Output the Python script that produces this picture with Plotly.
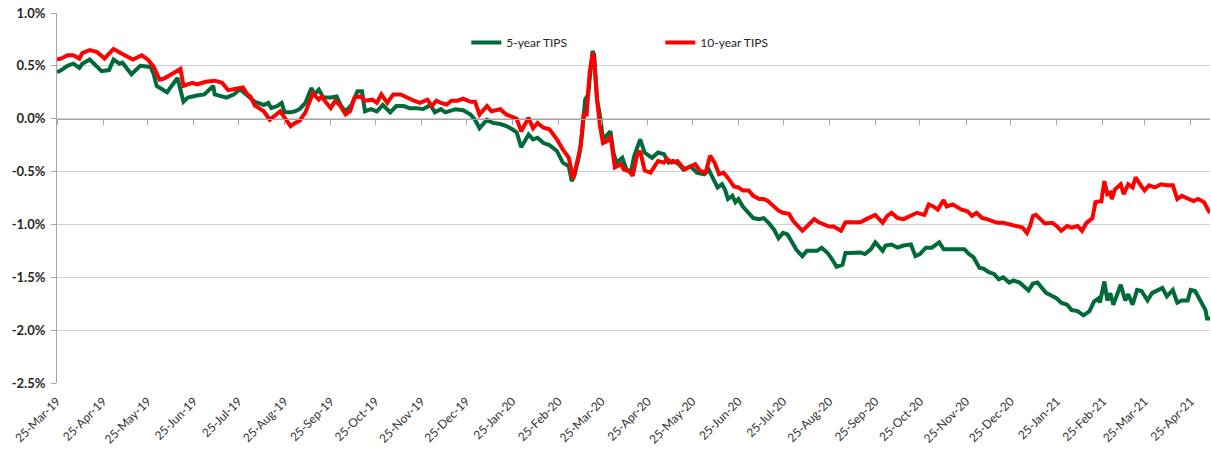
import plotly.graph_objects as go

# 5-year TIPS real yield (%)
dates_5y = [
    "2019-03-25", "2019-03-28", "2019-04-01", "2019-04-05", "2019-04-09", "2019-04-11", "2019-04-16", "2019-04-19",
    "2019-04-24", "2019-04-29", "2019-05-02", "2019-05-06", "2019-05-08", "2019-05-14", "2019-05-20", "2019-05-27",
    "2019-05-29", "2019-05-31", "2019-06-05", "2019-06-07", "2019-06-10", "2019-06-14", "2019-06-18", "2019-06-21",
    "2019-06-27", "2019-07-02", "2019-07-08", "2019-07-09", "2019-07-17", "2019-07-22", "2019-07-26", "2019-07-31",
    "2019-08-05", "2019-08-11", "2019-08-14", "2019-08-16", "2019-08-20", "2019-08-23", "2019-08-25", "2019-08-29",
    "2019-09-01", "2019-09-04", "2019-09-08", "2019-09-12", "2019-09-14", "2019-09-17", "2019-09-20", "2019-09-25",
    "2019-09-29", "2019-10-02", "2019-10-05", "2019-10-09", "2019-10-13", "2019-10-16", "2019-10-18", "2019-10-22",
    "2019-10-26", "2019-10-30", "2019-11-04", "2019-11-08", "2019-11-13", "2019-11-17", "2019-11-22", "2019-11-26",
    "2019-12-01", "2019-12-04", "2019-12-08", "2019-12-11", "2019-12-14", "2019-12-18", "2019-12-23", "2019-12-28",
    "2019-12-31", "2020-01-03", "2020-01-08", "2020-01-12", "2020-01-17", "2020-01-21", "2020-01-25", "2020-01-28",
    "2020-01-31", "2020-02-05", "2020-02-08", "2020-02-11", "2020-02-15", "2020-02-19", "2020-02-24", "2020-02-28",
    "2020-03-03", "2020-03-05", "2020-03-07", "2020-03-10", "2020-03-12", "2020-03-14", "2020-03-16", "2020-03-19",
    "2020-03-20", "2020-03-22", "2020-03-24", "2020-03-26", "2020-03-29", "2020-03-31", "2020-04-02", "2020-04-04",
    "2020-04-08", "2020-04-11", "2020-04-14", "2020-04-16", "2020-04-20", "2020-04-23", "2020-04-28", "2020-05-02",
    "2020-05-06", "2020-05-09", "2020-05-12", "2020-05-16", "2020-05-19", "2020-05-24", "2020-05-28", "2020-06-02",
    "2020-06-05", "2020-06-08", "2020-06-11", "2020-06-14", "2020-06-16", "2020-06-18", "2020-06-21", "2020-06-23",
    "2020-06-25", "2020-06-28", "2020-07-02", "2020-07-05", "2020-07-09", "2020-07-12", "2020-07-15", "2020-07-19",
    "2020-07-22", "2020-07-25", "2020-07-28", "2020-07-31", "2020-08-03", "2020-08-07", "2020-08-10", "2020-08-13",
    "2020-08-17", "2020-08-20", "2020-08-24", "2020-08-27", "2020-08-30", "2020-09-03", "2020-09-05", "2020-09-08",
    "2020-09-12", "2020-09-15", "2020-09-18", "2020-09-22", "2020-09-25", "2020-09-30", "2020-10-02", "2020-10-06",
    "2020-10-10", "2020-10-14", "2020-10-19", "2020-10-22", "2020-10-25", "2020-10-29", "2020-11-02", "2020-11-07",
    "2020-11-10", "2020-11-14", "2020-11-20", "2020-11-24", "2020-11-27", "2020-11-30", "2020-12-04", "2020-12-07",
    "2020-12-10", "2020-12-14", "2020-12-17", "2020-12-20", "2020-12-24", "2020-12-27", "2020-12-31", "2021-01-03",
    "2021-01-06", "2021-01-09", "2021-01-12", "2021-01-15", "2021-01-18", "2021-01-21", "2021-01-25", "2021-01-28",
    "2021-02-01", "2021-02-04", "2021-02-08", "2021-02-12", "2021-02-16", "2021-02-19", "2021-02-22", "2021-02-23",
    "2021-02-26", "2021-02-28", "2021-03-02", "2021-03-04", "2021-03-09", "2021-03-12", "2021-03-14", "2021-03-17",
    "2021-03-20", "2021-03-23", "2021-03-27", "2021-03-30", "2021-04-03", "2021-04-06", "2021-04-09", "2021-04-13",
    "2021-04-16", "2021-04-19", "2021-04-23", "2021-04-25", "2021-04-28", "2021-05-02", "2021-05-05", "2021-05-06",
    "2021-05-08",
]
tips_5y = [
    0.44, 0.46, 0.50, 0.52, 0.48, 0.52, 0.56, 0.52,
    0.45, 0.46, 0.56, 0.52, 0.53, 0.42, 0.50, 0.49,
    0.42, 0.31, 0.27, 0.25, 0.31, 0.385, 0.16, 0.20,
    0.22, 0.23, 0.31, 0.23, 0.20, 0.23, 0.28, 0.22,
    0.16, 0.13, 0.15, 0.10, 0.12, 0.15, 0.06, 0.06,
    0.07, 0.09, 0.15, 0.29, 0.23, 0.275, 0.20, 0.20,
    0.21, 0.12, 0.07, 0.13, 0.26, 0.26, 0.07, 0.09,
    0.07, 0.13, 0.06, 0.12, 0.12, 0.10, 0.10, 0.09,
    0.13, 0.06, 0.09, 0.06, 0.07, 0.09, 0.08, 0.04,
    -0.01, -0.09, -0.01, -0.04, -0.05, -0.07, -0.10, -0.13,
    -0.27, -0.15, -0.195, -0.18, -0.23, -0.25, -0.305, -0.415,
    -0.45, -0.59, -0.525, -0.35, -0.13, 0.18, 0.23, 0.64,
    0.61, 0.18, 0.025, -0.195, -0.15, -0.12, -0.32, -0.415,
    -0.37, -0.49, -0.49, -0.35, -0.195, -0.32, -0.37, -0.32,
    -0.335, -0.415, -0.40, -0.43, -0.48, -0.45, -0.51, -0.525,
    -0.48, -0.56, -0.65, -0.62, -0.67, -0.76, -0.73, -0.79,
    -0.76, -0.83, -0.89, -0.94, -0.95, -0.94, -0.98, -1.05,
    -1.13, -1.08, -1.095, -1.17, -1.24, -1.30, -1.25, -1.25,
    -1.25, -1.22, -1.27, -1.33, -1.40, -1.38, -1.27, -1.27,
    -1.265, -1.265, -1.28, -1.235, -1.17, -1.25, -1.20, -1.19,
    -1.22, -1.20, -1.19, -1.30, -1.28, -1.22, -1.22, -1.17,
    -1.235, -1.235, -1.235, -1.235, -1.28, -1.31, -1.41, -1.42,
    -1.45, -1.47, -1.52, -1.50, -1.55, -1.53, -1.55, -1.59,
    -1.625, -1.56, -1.55, -1.60, -1.65, -1.67, -1.70, -1.74,
    -1.76, -1.81, -1.82, -1.86, -1.82, -1.73, -1.70, -1.74,
    -1.54, -1.72, -1.65, -1.76, -1.57, -1.72, -1.66, -1.76,
    -1.62, -1.63, -1.72, -1.65, -1.62, -1.60, -1.68, -1.62,
    -1.74, -1.72, -1.72, -1.62, -1.63, -1.74, -1.81, -1.89,
    -1.89,
]

# 10-year TIPS real yield (%)
dates_10y = [
    "2019-03-25", "2019-03-28", "2019-04-01", "2019-04-05", "2019-04-09", "2019-04-11", "2019-04-16", "2019-04-21",
    "2019-04-26", "2019-05-02", "2019-05-07", "2019-05-15", "2019-05-21", "2019-05-25", "2019-05-29", "2019-06-02",
    "2019-06-05", "2019-06-09", "2019-06-12", "2019-06-16", "2019-06-18", "2019-06-24", "2019-06-27", "2019-07-03",
    "2019-07-09", "2019-07-14", "2019-07-18", "2019-07-24", "2019-07-28", "2019-07-31", "2019-08-02", "2019-08-05",
    "2019-08-11", "2019-08-15", "2019-08-19", "2019-08-22", "2019-08-25", "2019-08-29", "2019-09-01", "2019-09-04",
    "2019-09-08", "2019-09-11", "2019-09-13", "2019-09-17", "2019-09-19", "2019-09-22", "2019-09-25", "2019-09-28",
    "2019-10-01", "2019-10-05", "2019-10-08", "2019-10-11", "2019-10-15", "2019-10-18", "2019-10-23", "2019-10-26",
    "2019-10-29", "2019-11-02", "2019-11-06", "2019-11-11", "2019-11-15", "2019-11-20", "2019-11-24", "2019-11-29",
    "2019-12-02", "2019-12-05", "2019-12-08", "2019-12-12", "2019-12-15", "2019-12-19", "2019-12-23", "2019-12-28",
    "2019-12-31", "2020-01-03", "2020-01-08", "2020-01-11", "2020-01-17", "2020-01-21", "2020-01-28", "2020-01-31",
    "2020-02-05", "2020-02-08", "2020-02-11", "2020-02-15", "2020-02-19", "2020-02-24", "2020-02-28", "2020-03-03",
    "2020-03-06", "2020-03-08", "2020-03-11", "2020-03-13", "2020-03-15", "2020-03-17", "2020-03-19", "2020-03-20",
    "2020-03-22", "2020-03-24", "2020-03-26", "2020-03-29", "2020-03-31", "2020-04-03", "2020-04-07", "2020-04-09",
    "2020-04-12", "2020-04-15", "2020-04-18", "2020-04-20", "2020-04-23", "2020-04-27", "2020-05-02", "2020-05-06",
    "2020-05-08", "2020-05-11", "2020-05-15", "2020-05-18", "2020-05-20", "2020-05-24", "2020-05-27", "2020-05-30",
    "2020-06-03", "2020-06-06", "2020-06-09", "2020-06-12", "2020-06-15", "2020-06-18", "2020-06-22", "2020-06-25",
    "2020-06-28", "2020-07-02", "2020-07-05", "2020-07-09", "2020-07-12", "2020-07-15", "2020-07-19", "2020-07-22",
    "2020-07-25", "2020-07-29", "2020-08-01", "2020-08-05", "2020-08-07", "2020-08-10", "2020-08-15", "2020-08-18",
    "2020-08-21", "2020-08-25", "2020-08-28", "2020-09-02", "2020-09-05", "2020-09-08", "2020-09-12", "2020-09-15",
    "2020-09-19", "2020-09-25", "2020-09-30", "2020-10-03", "2020-10-06", "2020-10-10", "2020-10-14", "2020-10-19",
    "2020-10-23", "2020-10-28", "2020-10-31", "2020-11-03", "2020-11-06", "2020-11-10", "2020-11-12", "2020-11-16",
    "2020-11-19", "2020-11-22", "2020-11-26", "2020-11-29", "2020-12-02", "2020-12-06", "2020-12-09", "2020-12-13",
    "2020-12-16", "2020-12-20", "2020-12-25", "2020-12-29", "2021-01-02", "2021-01-05", "2021-01-07", "2021-01-09",
    "2021-01-11", "2021-01-14", "2021-01-17", "2021-01-22", "2021-01-25", "2021-01-28", "2021-02-01", "2021-02-04",
    "2021-02-08", "2021-02-11", "2021-02-14", "2021-02-18", "2021-02-20", "2021-02-23", "2021-02-24", "2021-02-26",
    "2021-02-28", "2021-03-02", "2021-03-03", "2021-03-05", "2021-03-09", "2021-03-11", "2021-03-14", "2021-03-17",
    "2021-03-19", "2021-03-22", "2021-03-25", "2021-03-28", "2021-04-01", "2021-04-05", "2021-04-09", "2021-04-13",
    "2021-04-16", "2021-04-19", "2021-04-23", "2021-04-27", "2021-04-30", "2021-05-04", "2021-05-07", "2021-05-08",
]
tips_10y = [
    0.56, 0.57, 0.60, 0.60, 0.57, 0.62, 0.65, 0.63,
    0.57, 0.66, 0.62, 0.56, 0.60, 0.56, 0.49, 0.37,
    0.38, 0.41, 0.44, 0.47, 0.31, 0.34, 0.325, 0.35,
    0.36, 0.34, 0.27, 0.29, 0.295, 0.23, 0.21, 0.125,
    0.07, -0.01, 0.04, 0.07, 0.01, -0.07, -0.04, -0.02,
    0.06, 0.17, 0.24, 0.18, 0.21, 0.15, 0.10, 0.17,
    0.13, 0.04, 0.07, 0.20, 0.21, 0.17, 0.18, 0.15,
    0.23, 0.15, 0.23, 0.23, 0.20, 0.17, 0.15, 0.18,
    0.12, 0.17, 0.15, 0.135, 0.17, 0.17, 0.19, 0.16,
    0.16, 0.04, 0.12, 0.07, 0.09, 0.04, 0.00, -0.12,
    0.01, -0.09, -0.04, -0.085, -0.10, -0.195, -0.29, -0.37,
    -0.57, -0.45, -0.26, 0.04, 0.04, 0.43, 0.62, 0.575,
    0.18, -0.07, -0.23, -0.21, -0.16, -0.46, -0.43, -0.48,
    -0.49, -0.54, -0.34, -0.305, -0.49, -0.51, -0.40, -0.415,
    -0.38, -0.415, -0.40, -0.45, -0.48, -0.45, -0.43, -0.49,
    -0.51, -0.35, -0.415, -0.525, -0.51, -0.56, -0.64, -0.65,
    -0.68, -0.68, -0.73, -0.76, -0.76, -0.78, -0.83, -0.87,
    -0.89, -0.90, -0.97, -1.03, -1.06, -1.02, -0.95, -0.98,
    -1.00, -1.02, -1.02, -1.06, -0.98, -0.98, -0.985, -0.98,
    -0.95, -0.91, -0.985, -0.92, -0.89, -0.94, -0.95, -0.92,
    -0.89, -0.91, -0.81, -0.83, -0.86, -0.77, -0.83, -0.81,
    -0.83, -0.86, -0.875, -0.92, -0.89, -0.94, -0.95, -0.97,
    -0.985, -0.985, -1.00, -1.015, -1.03, -1.08, -1.015, -0.92,
    -0.91, -0.95, -0.99, -0.985, -1.015, -1.06, -1.015, -1.03,
    -1.015, -1.06, -0.985, -0.94, -0.79, -0.78, -0.78, -0.59,
    -0.715, -0.70, -0.76, -0.67, -0.62, -0.715, -0.62, -0.65,
    -0.555, -0.62, -0.68, -0.63, -0.65, -0.62, -0.63, -0.63,
    -0.76, -0.73, -0.76, -0.78, -0.76, -0.79, -0.87, -0.89,
]

y_ticks = [1.0, 0.5, 0.0, -0.5, -1.0, -1.5, -2.0, -2.5]
y_tick_labels = ["1.0%", "0.5%", "0.0%", "-0.5%", "-1.0%", "-1.5%", "-2.0%", "-2.5%"]
x_range = ["2019-03-25", "2021-05-08"]

GREEN = "#006A3A"
RED = "#FF0000"
AXIS_GREY = "#A6A6A6"
GRID_GREY = "#D0D0D0"
FONT = "Lato"

fig = go.Figure()
fig.add_trace(go.Scatter(x=dates_5y, y=tips_5y, mode="lines", name="5-year TIPS",
                         line=dict(color=GREEN, width=4)))
fig.add_trace(go.Scatter(x=dates_10y, y=tips_10y, mode="lines", name="10-year TIPS",
                         line=dict(color=RED, width=4)))
# carrier for the secondary x axis drawn along the 0% line
fig.add_trace(go.Scatter(x=x_range, y=[None, None], xaxis="x2", mode="lines",
                         showlegend=False, hoverinfo="skip"))

y_min, y_max = y_ticks[-1], y_ticks[0]
zero_pos = (0.0 - y_min) / (y_max - y_min)

fig.update_layout(
    width=1211, height=450,
    margin=dict(l=57, r=1, t=13, b=67),
    plot_bgcolor="white", paper_bgcolor="white",
    font=dict(family=FONT, color="#262626"),
    showlegend=True,
    legend=dict(orientation="h", x=0.355, y=0.92, xanchor="left", yanchor="middle",
                font=dict(family=FONT, size=12, color="#262626"),
                entrywidth=149, entrywidthmode="pixels",
                bgcolor="rgba(0,0,0,0)"),
    xaxis=dict(type="date", range=x_range, tick0="2019-03-25", dtick="M1",
               tickformat="%d-%b-%y", tickangle=-45, showgrid=False, showline=False,
               ticks="", zeroline=False, ticklabelstandoff=8,
               tickfont=dict(family=FONT, size=12, color="#333333")),
    xaxis2=dict(type="date", range=x_range, overlaying="x", anchor="free", position=zero_pos,
                tick0="2019-03-25", dtick="M1", showticklabels=False, showgrid=False,
                showline=True, linecolor=AXIS_GREY, linewidth=1,
                ticks="outside", ticklen=5, tickcolor=AXIS_GREY, tickwidth=1),
    yaxis=dict(range=[y_min, y_max], tickvals=y_ticks, ticktext=y_tick_labels,
               showgrid=True, gridcolor=GRID_GREY, gridwidth=1,
               showline=True, linecolor=AXIS_GREY, linewidth=1,
               ticks="outside", ticklen=5, tickcolor=AXIS_GREY, zeroline=False,
               ticklabelstandoff=3,
               tickfont=dict(family=FONT, size=13, color="#262626", weight="bold")),
)

fig.write_html("out.html")
